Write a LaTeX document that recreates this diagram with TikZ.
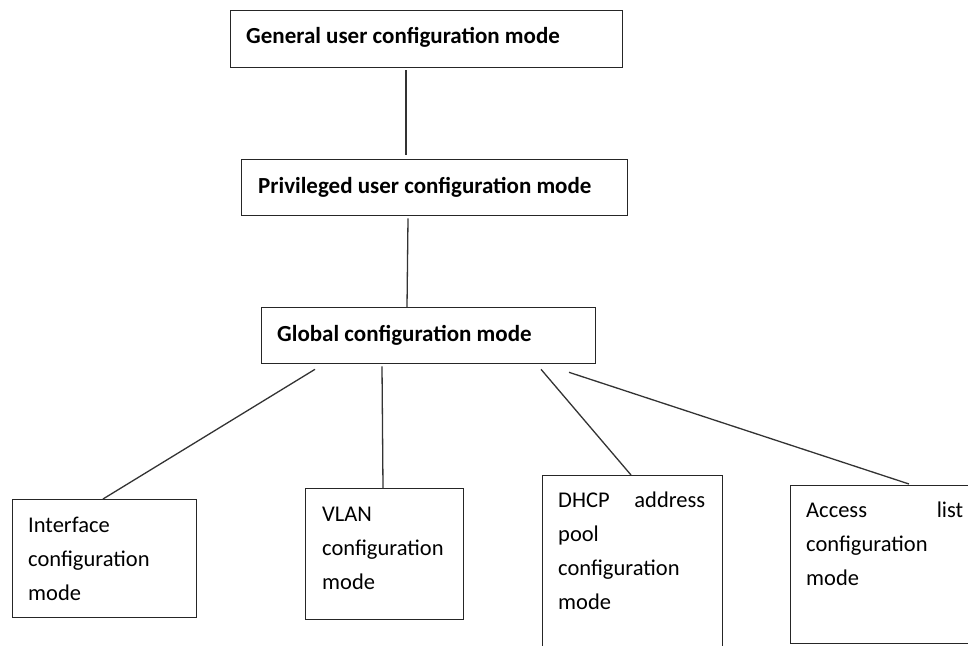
\documentclass[tikz,border=0pt]{standalone}
\usepackage{fontspec}
\setmainfont{Carlito}
\begin{document}
\begin{tikzpicture}[x=1pt,y=-1pt,
  box/.style={draw=black!85, line width=1.3pt, rectangle, inner sep=0pt, anchor=north west},
  conn/.style={draw=black!80, line width=1.3pt},
  ttext/.style={anchor=base west, inner sep=0pt, font=\fontsize{23}{34}\selectfont\bfseries},
  btext/.style={anchor=base west, inner sep=0pt, align=left, font=\fontsize{22.5}{34.3}\selectfont}]
\useasboundingbox (0,0) rectangle (968,645);
% boxes
\node[box, minimum width=392pt, minimum height=57pt] (gen) at (230,10) {};
\node[box, minimum width=386pt, minimum height=56pt] (priv) at (241,159) {};
\node[box, minimum width=334pt, minimum height=56pt] (glob) at (261,307) {};
\node[box, minimum width=184pt, minimum height=118pt] (iface) at (12,499) {};
\node[box, minimum width=158pt, minimum height=131pt] (vlan) at (305,488) {};
\node[box, minimum width=180pt, minimum height=185pt] (dhcp) at (542,475) {};
\node[box, minimum width=200pt, minimum height=158pt] (acl) at (790,485) {};
% texts (base anchor = baseline of last line)
\node[ttext] (tgen) at (246,43) {General user configuration mode};
\node[ttext] (tpriv) at (258,193) {Privileged user configuration mode};
\node[ttext] (tglob) at (277,341) {Global configuration mode};
\node[btext] (tiface) at (28,600.6) {Interface\\configuration\\mode};
\node[btext] (tvlan) at (322,589.6) {VLAN\\configuration\\mode};
\node[btext] (tdhcp) at (558,609.9) {\makebox[147pt][s]{DHCP\hfill address}\\pool\\configuration\\mode};
\node[btext] (tacl) at (806,585.6) {\makebox[157pt][s]{Access\hfill list}\\configuration\\mode};
% connectors
\draw[conn] ([yshift=-2pt]gen.south -| 406,0) -- ([yshift=4pt]priv.north -| 406,0);
\draw[conn] ([yshift=-2pt]priv.south -| 408,0) -- (glob.north -| 407,0);
\draw[conn] ([yshift=-5pt]glob.south -| 315,0) -- (iface.north -| 103,0);
\draw[conn] ([yshift=-2pt]glob.south -| 382,0) -- (vlan.north -| 383,0);
\draw[conn] ([yshift=-5pt]glob.south -| 541,0) -- (dhcp.north -| 631,0);
\draw[conn] ([yshift=-8pt]glob.south -| 569,0) -- ([yshift=1pt]acl.north -| 909,0);
\end{tikzpicture}
\end{document}
